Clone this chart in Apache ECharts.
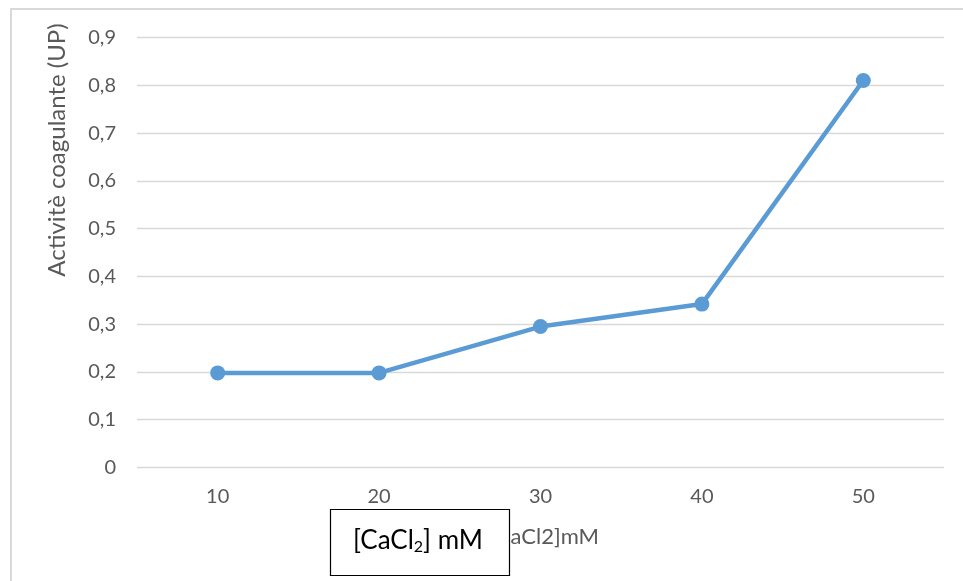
<!DOCTYPE html>
<html>
<head>
<meta charset="utf-8">
<script src="https://cdn.jsdelivr.net/npm/echarts@6/dist/echarts.min.js"></script>
<style>
  html, body { margin: 0; padding: 0; background: #fff; }
  #chart { width: 963px; height: 581px; }
</style>
</head>
<body>
<div id="chart"></div>
<script>
// CaCl2 concentration (mM) and measured coagulant activity (UP)
const concentrations = ['10', '20', '30', '40', '50'];
const activity = [0.198, 0.198, 0.295, 0.342, 0.81];
const yTicks = { min: 0, max: 0.9, interval: 0.1 };

const FONT = 'Lato, "Open Sans", sans-serif';
const GREY = '#595959';

const chart = echarts.init(document.getElementById('chart'), null, { renderer: 'canvas' });

chart.setOption({
  animation: false,
  backgroundColor: '#ffffff',
  grid: { left: 137, right: 19, top: 37.5, bottom: 113.5, containLabel: false },
  xAxis: {
    type: 'category',
    data: concentrations,
    boundaryGap: true,
    axisLine: { show: false },
    axisTick: { show: false },
    axisLabel: { color: GREY, fontFamily: FONT, fontSize: 20, margin: 19 },
    splitLine: { show: false }
  },
  yAxis: {
    type: 'value',
    min: yTicks.min,
    max: yTicks.max,
    interval: yTicks.interval,
    axisLine: { show: false },
    axisTick: { show: false },
    axisLabel: {
      color: GREY, fontFamily: FONT, fontSize: 20, margin: 21,
      formatter: v => (Math.round(v * 10) / 10).toString().replace('.', ',')
    },
    splitLine: { lineStyle: { color: '#d9d9d9', width: 1.3 } }
  },
  series: [{
    type: 'line',
    data: activity,
    lineStyle: { color: '#5b9bd5', width: 4.5 },
    itemStyle: { color: '#5b9bd5' },
    symbol: 'circle',
    symbolSize: 15,
    showSymbol: true
  }],
  graphic: [
    // outer chart frame
    {
      type: 'rect', silent: true,
      shape: { x: 11, y: 9, width: 980, height: 600 },
      style: { fill: 'none', stroke: '#d9d9d9', lineWidth: 2 }
    },
    // vertical axis title
    {
      type: 'text', silent: true,
      x: 57, y: 150, rotation: Math.PI / 2,
      style: {
        text: 'Activitè coagulante (UP)', fill: GREY,
        font: '24px ' + FONT, align: 'center', verticalAlign: 'middle'
      }
    },
    // horizontal axis title
    {
      type: 'text', silent: true,
      x: 599, y: 537,
      style: {
        text: '[CaCl2]mM', fill: GREY,
        font: '22px ' + FONT, align: 'right', verticalAlign: 'middle'
      }
    },
    // caption box laid over the axis title
    {
      type: 'rect', silent: true, z: 10,
      shape: { x: 330.5, y: 509.5, width: 179, height: 66 },
      style: { fill: '#ffffff', stroke: '#000000', lineWidth: 1.2 }
    },
    {
      type: 'text', silent: true, z: 11,
      x: 353, y: 541,
      style: {
        text: '{a|[CaCl}{s|2}{a|] mM}',
        align: 'left', verticalAlign: 'middle',
        rich: {
          a: { fontFamily: FONT, fontSize: 26, fill: '#000000', color: '#000000' },
          s: { fontFamily: FONT, fontSize: 16, fill: '#000000', color: '#000000', padding: [12, 0, 0, 0] }
        }
      }
    }
  ]
});
</script>
</body>
</html>
